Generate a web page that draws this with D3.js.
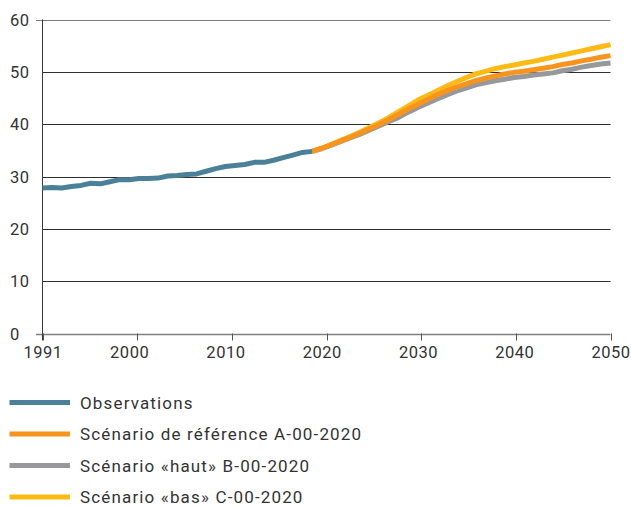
<!DOCTYPE html>
<html>
<head>
<meta charset="utf-8">
<script src="https://cdn.jsdelivr.net/npm/d3@7"></script>
<style>
  html, body { margin: 0; padding: 0; background: #fff; }
  svg { display: block; font-family: Roboto, "DejaVu Sans", sans-serif; }
</style>
</head>
<body>
<svg id="chart" width="631" height="506"></svg>
<script>
// Observed values, 1991–2019
const obsYears = d3.range(1991, 2020);
const obsValues = [
  27.8, 27.9, 27.8, 28.1, 28.3, 28.7, 28.6, 29.0, 29.4, 29.4,
  29.6, 29.6, 29.7, 30.1, 30.2, 30.4, 30.5, 31.0, 31.5, 31.9,
  32.1, 32.3, 32.7, 32.7, 33.1, 33.6, 34.1, 34.6, 34.8
];

// Projection scenarios, 2019–2050
const scenYears = d3.range(2019, 2051);
const scenA = [
  34.8, 35.4, 36.1, 36.8, 37.5, 38.3, 39.1, 40.0, 40.9, 41.9,
  42.9, 43.8, 44.7, 45.6, 46.4, 47.1, 47.7, 48.3, 48.8, 49.2,
  49.6, 49.9, 50.1, 50.4, 50.7, 51.0, 51.4, 51.7, 52.1, 52.4,
  52.8, 53.1
];
const scenB = [
  34.8, 35.3, 36.0, 36.7, 37.4, 38.1, 38.9, 39.7, 40.5, 41.3,
  42.3, 43.2, 44.0, 44.8, 45.6, 46.3, 46.9, 47.5, 47.9, 48.3,
  48.6, 48.9, 49.1, 49.4, 49.6, 49.8, 50.2, 50.5, 50.9, 51.2,
  51.5, 51.7
];
const scenC = [
  34.8, 35.4, 36.1, 36.9, 37.7, 38.5, 39.4, 40.3, 41.3, 42.4,
  43.5, 44.6, 45.5, 46.4, 47.3, 48.1, 48.9, 49.6, 50.1, 50.6,
  51.0, 51.3, 51.7, 52.0, 52.4, 52.8, 53.2, 53.6, 54.0, 54.4,
  54.8, 55.2
];

const tickYears = [1991, 2000, 2010, 2020, 2030, 2040, 2050];
const yTicks = [0, 10, 20, 30, 40, 50, 60];

const seriesNames = [
  "Observations",
  "Scénario de référence A-00-2020",
  "Scénario «haut» B-00-2020",
  "Scénario «bas» C-00-2020"
];
const seriesColors = ["#4a8198", "#f7941e", "#97989b", "#fdb914"];

const svg = d3.select("#chart");
const plotLeft = 42.5, plotRight = 610.5, plotTop = 19.5, plotBottom = 333.5;

const x = d3.scaleLinear().domain([1991, 2050]).range([plotLeft, plotRight]);
const y = d3.scaleLinear().domain([0, 60]).range([plotBottom, plotTop]);
// tick marks sit at evenly spaced slots along the axis
const tickSlot = d3.scalePoint().domain(tickYears).range([plotLeft, plotRight]);

// horizontal gridlines
svg.append("g")
  .selectAll("line")
  .data(yTicks.filter(d => d > 0))
  .join("line")
  .attr("x1", d => d === 60 ? plotLeft - 6.5 : plotLeft)
  .attr("x2", plotRight)
  .attr("y1", d => Math.round(y(d)) + 0.5)
  .attr("y2", d => Math.round(y(d)) + 0.5)
  .attr("stroke", d => d === 60 ? "#7d7d7d" : "#2e2e2e")
  .attr("stroke-width", 1);

// y tick labels
svg.append("g")
  .selectAll("text")
  .data(yTicks)
  .join("text")
  .attr("x", 10)
  .attr("y", d => Math.round(y(d)) + 0.5)
  .attr("dy", "0.36em")
  .attr("fill", "#333")
  .style("font-size", "16.5px")
  .style("letter-spacing", "0.5px")
  .text(d => d);

// x axis baseline
svg.append("line")
  .attr("x1", plotLeft - 6.5).attr("x2", plotRight)
  .attr("y1", Math.round(y(0)) + 0.5).attr("y2", Math.round(y(0)) + 0.5)
  .attr("stroke", "#808080").attr("stroke-width", 1.3);

// y axis line
svg.append("line")
  .attr("x1", plotLeft).attr("x2", plotLeft)
  .attr("y1", plotTop).attr("y2", plotBottom + 7)
  .attr("stroke", "#3a3a3a").attr("stroke-width", 1);

// x tick marks
svg.append("g")
  .selectAll("line")
  .data(tickYears)
  .join("line")
  .attr("x1", d => Math.round(tickSlot(d)) + 0.5)
  .attr("x2", d => Math.round(tickSlot(d)) + 0.5)
  .attr("y1", plotBottom)
  .attr("y2", plotBottom + 7)
  .attr("stroke", "#555")
  .attr("stroke-width", 1);

// x tick labels
const xAxis = d3.axisBottom(x).tickValues(tickYears).tickSize(0).tickPadding(0).tickFormat(d3.format("d"));
const gx = svg.append("g").attr("transform", `translate(0,${plotBottom + 12})`).call(xAxis);
gx.select(".domain").remove();
gx.selectAll("text")
  .attr("fill", "#333")
  .attr("dy", "0.75em")
  .style("font-size", "16.5px")
  .style("font-family", "Roboto, 'DejaVu Sans', sans-serif")
  .style("letter-spacing", "0.5px");

// lines
const line = d3.line().x(d => x(d[0])).y(d => y(d[1]));
const pairs = (years, vals) => years.map((yr, i) => [yr, vals[i]]);

const drawOrder = [
  { vals: scenB, years: scenYears, color: seriesColors[2] },
  { vals: scenC, years: scenYears, color: seriesColors[3] },
  { vals: scenA, years: scenYears, color: seriesColors[1] },
  { vals: obsValues, years: obsYears, color: seriesColors[0] }
];
svg.append("g")
  .selectAll("path")
  .data(drawOrder)
  .join("path")
  .attr("d", d => line(pairs(d.years, d.vals)))
  .attr("fill", "none")
  .attr("stroke", d => d.color)
  .attr("stroke-width", 5)
  .attr("stroke-linejoin", "round");

// legend
const legend = svg.append("g");
const rowY = i => 402.5 + i * 31.5;
legend.selectAll("line")
  .data(seriesNames)
  .join("line")
  .attr("x1", 9.5).attr("x2", 70)
  .attr("y1", (d, i) => rowY(i)).attr("y2", (d, i) => rowY(i))
  .attr("stroke", (d, i) => seriesColors[i])
  .attr("stroke-width", 5);
legend.selectAll("text")
  .data(seriesNames)
  .join("text")
  .attr("x", 80)
  .attr("y", (d, i) => rowY(i))
  .attr("dy", "0.36em")
  .attr("fill", "#333")
  .style("font-size", "17px")
  .style("letter-spacing", "1.15px")
  .text(d => d);
</script>
</body>
</html>
